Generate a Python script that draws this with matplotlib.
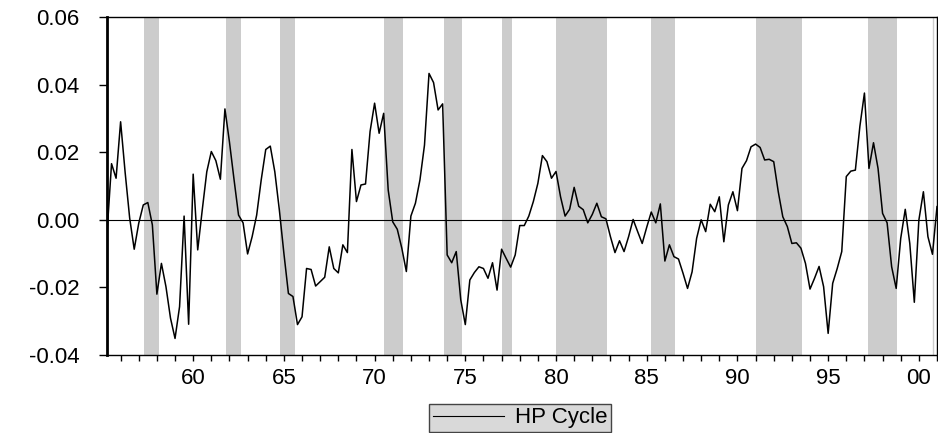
import numpy as np
import matplotlib.pyplot as plt

plt.rcParams['font.family'] = ['Liberation Sans', 'DejaVu Sans']

# quarterly HP cycle, 1955Q2 - 2001Q1
start_year = 1955.25
hp_cycle = [
    -0.0040, 0.0166, 0.0123, 0.0290, 0.0140, 0.0005, -0.0087, -0.0010,
    0.0044, 0.0051, -0.0015, -0.0220, -0.0129, -0.0198, -0.0291, -0.0351,
    -0.0257, 0.0011, -0.0309, 0.0135, -0.0089, 0.0029, 0.0142, 0.0202,
    0.0175, 0.0120, 0.0328, 0.0230, 0.0120, 0.0014, -0.0009, -0.0101,
    -0.0050, 0.0014, 0.0118, 0.0208, 0.0218, 0.0142, 0.0029, -0.0099,
    -0.0218, -0.0227, -0.0310, -0.0287, -0.0144, -0.0147, -0.0196, -0.0183,
    -0.0170, -0.0080, -0.0144, -0.0157, -0.0074, -0.0097, 0.0208, 0.0054,
    0.0103, 0.0106, 0.0261, 0.0345, 0.0256, 0.0315, 0.0088, -0.0006,
    -0.0028, -0.0084, -0.0153, 0.0011, 0.0049, 0.0118, 0.0221, 0.0433,
    0.0406, 0.0325, 0.0343, -0.0104, -0.0127, -0.0094, -0.0237, -0.0310,
    -0.0178, -0.0156, -0.0139, -0.0144, -0.0173, -0.0127, -0.0208, -0.0087,
    -0.0114, -0.0140, -0.0104, -0.0017, -0.0017, 0.0011, 0.0054, 0.0108,
    0.0190, 0.0172, 0.0123, 0.0143, 0.0068, 0.0011, 0.0031, 0.0096,
    0.0040, 0.0030, -0.0009, 0.0016, 0.0049, 0.0009, 0.0003, -0.0050,
    -0.0097, -0.0062, -0.0094, -0.0050, 0.0001, -0.0035, -0.0070, -0.0022,
    0.0023, -0.0009, 0.0047, -0.0122, -0.0074, -0.0109, -0.0116, -0.0158,
    -0.0203, -0.0154, -0.0055, 0.0000, -0.0035, 0.0046, 0.0024, 0.0068,
    -0.0065, 0.0044, 0.0083, 0.0027, 0.0152, 0.0175, 0.0216, 0.0224,
    0.0214, 0.0177, 0.0179, 0.0172, 0.0083, 0.0009, -0.0020, -0.0070,
    -0.0068, -0.0084, -0.0129, -0.0205, -0.0173, -0.0138, -0.0198, -0.0336,
    -0.0188, -0.0144, -0.0094, 0.0128, 0.0144, 0.0147, 0.0277, 0.0375,
    0.0152, 0.0228, 0.0152, 0.0019, -0.0009, -0.0139, -0.0203, -0.0055,
    0.0031, -0.0070, -0.0244, -0.0001, 0.0083, -0.0050, -0.0102, 0.0039,
]

# shaded periods (decimal years)
shaded = [
    (1957.27, 1958.10), (1961.80, 1962.61), (1964.78, 1965.60),
    (1970.52, 1971.55), (1973.80, 1974.81), (1977.03, 1977.58),
    (1980.01, 1982.81), (1985.25, 1986.57), (1991.04, 1993.56),
    (1997.22, 1998.80),
]
shade_last = 2000.76

x_major = [1960, 1965, 1970, 1975, 1980, 1985, 1990, 1995, 2000]
x_labels = ["60", "65", "70", "75", "80", "85", "90", "95", "00"]
y_ticks = [-0.04, -0.02, 0.00, 0.02, 0.04, 0.06]
y_labels = ["-0.04", "-0.02", "0.00", "0.02", "0.04", "0.06"]

dates = start_year + 0.25 * np.arange(len(hp_cycle))

fig = plt.figure(figsize=(9.38, 4.33), dpi=100)
ax = fig.add_axes([107 / 938, 78 / 433, 830 / 938, 338 / 433])

for a, b in shaded:
    ax.axvspan(a, b, color='#cccccc', lw=0, zorder=0)
ax.axvline(shade_last, color='#cccccc', lw=1, zorder=0)
ax.axhline(0, color='black', lw=0.8, zorder=1)
ax.plot(dates, hp_cycle, color='black', lw=1.1, label='HP Cycle', zorder=2)

ax.set_xlim(dates[0], dates[-1])
ax.set_ylim(-0.04, 0.06)

ax.set_xticks(x_major)
ax.set_xticklabels(x_labels)
ax.set_xticks(np.arange(1956, 2002), minor=True)
ax.set_yticks(y_ticks)
ax.set_yticklabels(y_labels)
ax.tick_params(axis='x', which='both', direction='out', length=4, width=1,
               labelsize=16, pad=5)
ax.tick_params(axis='y', direction='out', length=6, width=1,
               labelsize=16, pad=14)

ax.spines['left'].set_linewidth(2)
for s in ['top', 'right', 'bottom']:
    ax.spines[s].set_linewidth(1)

leg = fig.legend(loc='center', bbox_to_anchor=(520 / 938, 1 - 418 / 433),
                 fontsize=16, handlelength=3.2, handletextpad=0.5,
                 borderpad=0.15, fancybox=False, framealpha=1)
leg.get_frame().set_facecolor('#d9d9d9')
leg.get_frame().set_edgecolor('#444444')
leg.get_frame().set_linewidth(1)
for line in leg.get_lines():
    line.set_linewidth(0.8)

fig.savefig('out.png', dpi=100)
